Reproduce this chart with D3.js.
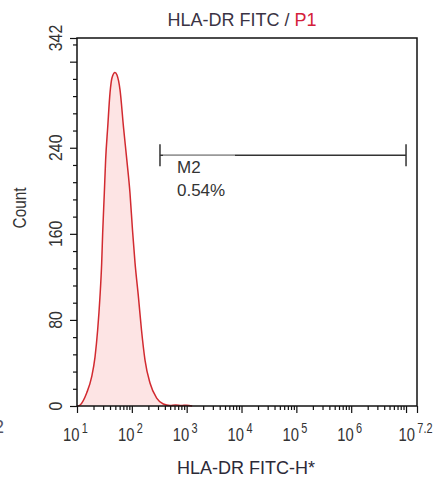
<!DOCTYPE html>
<html>
<head>
<meta charset="utf-8">
<script src="https://cdn.jsdelivr.net/npm/d3@7"></script>
<style>
  html, body { margin: 0; padding: 0; background: #fff; }
  svg { display: block; font-family: Arial, "Liberation Sans", sans-serif; }
</style>
</head>
<body>
<svg id="chart" width="441" height="486"></svg>
<script>
// Histogram of HLA-DR FITC-H (channel value -> event count)
const channels = [10.5, 11.4, 15.0, 18.5, 21.3, 23.8, 26.2, 28.2, 29.4, 31.5, 33.3, 36.3, 40.0, 43.5,
                  49.3, 53.6, 60.8, 70.5, 80.9, 92.5, 102.8, 114.3, 132.1, 150.0, 173.8, 214.3,
                  283.8, 375.0, 496.6, 631, 794, 1000, 1259];
const counts   = [0, 0.9, 12.1, 27, 45.5, 70.6, 101, 133, 161, 198, 229, 259, 291, 305,
                  310, 307.6, 294, 259, 229, 198, 163.6, 133, 101, 70.6, 42.7, 21.4,
                  7.4, 1.9, 0.5, 0.9, 0.4, 0.8, 0];

// Axis settings
const xDomain = [10, Math.pow(10, 7.2)];
const xExponents = ["1", "2", "3", "4", "5", "6", "7.2"];
const xMajorValues = [1e1, 1e2, 1e3, 1e4, 1e5, 1e6, 1e7, Math.pow(10, 7.2)];
const yDomain = [0, 342];
const yLabelValues = [0, 80, 160, 240, 342];
const yMajorValues = [0, 80, 160, 240, 320, 342];

// Marker gate M2
const gateName = "M2";
const gatePercent = "0.54%";
const gateRange = [326, 1e7];
const gateLevel = 233;

const svg = d3.select("#chart");
const plot = { left: 77, right: 417, top: 38, bottom: 406 };

const x = d3.scaleLog().domain(xDomain).range([plot.left, plot.right]);
const y = d3.scaleLinear().domain(yDomain).range([plot.bottom, plot.top]);

// Histogram area + outline
const pts = channels.map((c, i) => [c, counts[i]]);
const area = d3.area().x(d => x(d[0])).y0(y(0)).y1(d => y(d[1])).curve(d3.curveMonotoneX);
const line = d3.line().x(d => x(d[0])).y(d => y(d[1])).curve(d3.curveMonotoneX);
svg.append("path").datum(pts).attr("d", area).attr("fill", "#fde4e4");
svg.append("path").datum(pts).attr("d", line).attr("fill", "none")
   .attr("stroke", "#d22a30").attr("stroke-width", 1.5);

// Minor ticks
const xMinor = [];
for (let e = 1; e <= 7; e++) for (let m = 2; m <= 9; m++) {
  const v = m * Math.pow(10, e);
  if (v < xDomain[1]) xMinor.push(v);
}
const yMinor = d3.range(0, 342, 16).filter(v => v % 80 !== 0);

const axisColor = "#111";
const gx = svg.append("g").attr("transform", `translate(0,${plot.bottom})`);
gx.call(d3.axisBottom(x).tickValues(xMinor).tickSize(4).tickFormat(""));
gx.append("g").call(d3.axisBottom(x).tickValues(xMajorValues).tickSize(7).tickFormat(""));
gx.selectAll("path.domain").remove();
gx.selectAll("line").attr("stroke", axisColor).attr("stroke-width", 1.2);

const gy = svg.append("g").attr("transform", `translate(${plot.left},0)`);
gy.call(d3.axisLeft(y).tickValues(yMinor).tickSize(4).tickFormat(""));
gy.append("g").call(d3.axisLeft(y).tickValues(yMajorValues).tickSize(7).tickFormat(""));
gy.selectAll("path.domain").remove();
gy.selectAll("line").attr("stroke", axisColor).attr("stroke-width", 1.2);

// Frame
svg.append("rect")
  .attr("x", plot.left).attr("y", plot.top)
  .attr("width", plot.right - plot.left).attr("height", plot.bottom - plot.top)
  .attr("fill", "none").attr("stroke", axisColor).attr("stroke-width", 1.5);

// X tick labels: 10 with superscript exponent
const xLabelVals = [1e1, 1e2, 1e3, 1e4, 1e5, 1e6, Math.pow(10, 7.2)];
xLabelVals.forEach((v, i) => {
  const t = svg.append("text")
    .attr("transform", `translate(${x(v) - 1.5},441) scale(0.78,1)`)
    .attr("text-anchor", "middle")
    .attr("fill", "#333")
    .attr("font-size", 19);
  t.append("tspan").text("10");
  t.append("tspan").attr("dx", 3).attr("dy", -8).attr("font-size", 14).text(xExponents[i]);
});

// Y tick labels (rotated)
yLabelValues.forEach(v => {
  svg.append("text")
    .attr("transform", `translate(62,${y(v)}) rotate(-90) scale(0.88,1)`)
    .attr("text-anchor", "middle")
    .attr("fill", "#333")
    .attr("font-size", 18)
    .text(v);
});

// Axis titles
svg.append("text")
  .attr("transform", "translate(26,208) rotate(-90) scale(0.85,1)")
  .attr("text-anchor", "middle").attr("fill", "#333").attr("font-size", 18)
  .text("Count");

svg.append("text")
  .attr("x", 246).attr("y", 474)
  .attr("text-anchor", "middle").attr("fill", "#2c2a38").attr("font-size", 18)
  .text("HLA-DR FITC-H*");

const title = svg.append("text")
  .attr("x", 242).attr("y", 26)
  .attr("text-anchor", "middle").attr("font-size", 18).attr("fill", "#3a3344");
title.append("tspan").text("HLA-DR FITC / ");
title.append("tspan").attr("fill", "#d4203a").text("P1");

// Stray label at the left edge
svg.append("text").attr("x", 4).attr("y", 433).attr("text-anchor", "end")
  .attr("font-size", 18).attr("fill", "#556").text("2");

// Marker bar
const gy0 = y(gateLevel);
const gx0 = x(gateRange[0]), gx1 = x(gateRange[1]);
svg.append("line").attr("x1", gx0).attr("x2", gx1).attr("y1", gy0).attr("y2", gy0)
  .attr("stroke", "#333").attr("stroke-width", 1.5);
svg.append("line").attr("x1", gx0 + 3).attr("x2", 235).attr("y1", gy0).attr("y2", gy0)
  .attr("stroke", "#fff").attr("stroke-opacity", 0.5).attr("stroke-width", 1.5);
[gx0, gx1].forEach(px => {
  svg.append("line").attr("x1", px).attr("x2", px).attr("y1", gy0 - 11).attr("y2", gy0 + 11)
    .attr("stroke", "#333").attr("stroke-width", 1.5);
});
svg.append("text").attr("x", gx0 + 17).attr("y", 173).attr("font-size", 17)
  .attr("fill", "#333").text(gateName);
svg.append("text").attr("x", gx0 + 17).attr("y", 196).attr("font-size", 17)
  .attr("fill", "#333").text(gatePercent);
</script>
</body>
</html>
